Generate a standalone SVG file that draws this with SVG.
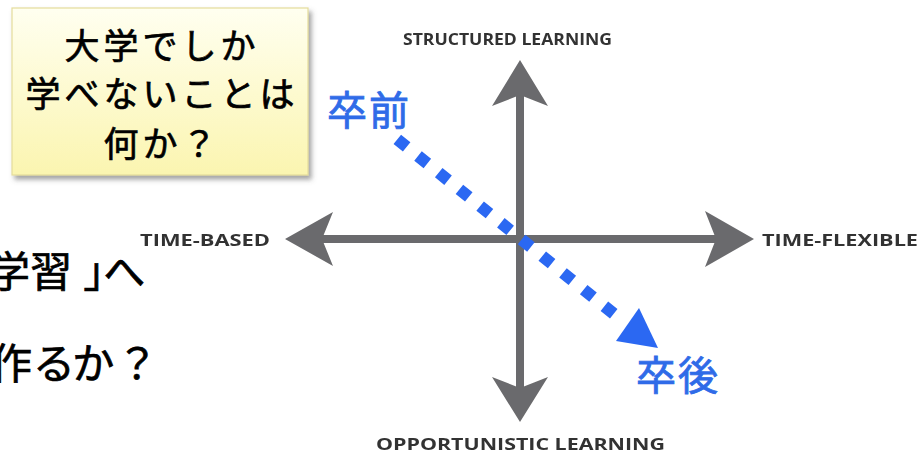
<svg xmlns="http://www.w3.org/2000/svg" width="921" height="454" viewBox="0 0 921 454">
  <defs>
    <linearGradient id="noteFill" x1="0" y1="0" x2="0" y2="1">
      <stop offset="0" stop-color="#fffff0"/>
      <stop offset="1" stop-color="#fbf5b0"/>
    </linearGradient>
    <filter id="noteShadow" x="-10%" y="-10%" width="125%" height="130%">
      <feDropShadow dx="3" dy="4" stdDeviation="2.5" flood-color="#555" flood-opacity="0.55"/>
    </filter>
    <filter id="soft" x="-5%" y="-5%" width="110%" height="110%">
      <feGaussianBlur stdDeviation="0.55"/>
    </filter>
  </defs>
  <style>
    .jp { font-family: "Noto Sans CJK JP", "Noto Sans CJK SC", sans-serif; fill: #000; stroke: #000; stroke-width: 0.7px; }
    .note { font-size: 35px; letter-spacing: 4px; text-anchor: middle; }
    .big { font-size: 42px; font-feature-settings: "palt"; }
    .blue { font-family: "Noto Sans CJK JP", "Noto Sans CJK SC", sans-serif; fill: #2f6be8; stroke: #2f6be8; stroke-width: 0.8px; font-size: 40px; letter-spacing: 2px; }
    .axis-label { font-family: "Open Sans", "Liberation Sans", sans-serif; font-weight: 700; fill: #333; }
    .axis { stroke: #6b6b6d; stroke-width: 8; fill: none; }
    .head { fill: #6b6b6d; }
  </style>

  <rect width="921" height="454" fill="#fff"/>

  <!-- question note -->
  <g id="note">
    <rect x="12" y="8" width="296" height="167" fill="url(#noteFill)" stroke="#e4dc9c" stroke-width="1.2" filter="url(#noteShadow)"/>
    <text class="jp note" x="162" y="59">大学でしか</text>
    <text class="jp note" x="162" y="107">学べないことは</text>
    <text class="jp note" x="162" y="157">何か？</text>
  </g>

  <!-- left-side slide text, running off the left edge -->
  <g id="slide-text">
    <text class="jp big" y="287"><tspan x="-12">学</tspan><tspan x="30">習</tspan><tspan x="84">」</tspan><tspan x="103">へ</tspan></text>
    <text class="jp big" y="379" font-size="44"><tspan x="-10">作</tspan><tspan x="35">る</tspan><tspan x="73">か</tspan><tspan x="122">？</tspan></text>
  </g>

  <!-- axes -->
  <g id="connectors">
    <g filter="url(#soft)">
      <line class="axis" x1="520" y1="94" x2="520" y2="389"/>
      <line class="axis" x1="321" y1="239" x2="717" y2="239"/>
      <path class="head" d="M520,60 L548,106 L520,95 L492,106 Z"/>
      <path class="head" d="M520,422 L548,377 L520,388 L492,377 Z"/>
      <path class="head" d="M285,239 L333,212 L322,239 L333,266 Z"/>
      <path class="head" d="M754,239 L705,211 L716,239 L705,267 Z"/>
    </g>
    <!-- before → after path -->
    <g id="progress-arrow">
      <line x1="397.3" y1="139.3" x2="614" y2="314" stroke="#2b68f2" stroke-width="12" stroke-dasharray="12 14.6"/>
      <path d="M658,348 L639,308 L616,341 Z" fill="#2b68f2"/>
    </g>
  </g>

  <!-- axis labels -->
  <g id="labels" filter="url(#soft)">
    <g id="label-structured"><text class="axis-label" x="403" y="45" font-size="15.5" textLength="209" lengthAdjust="spacingAndGlyphs">STRUCTURED LEARNING</text></g>
    <g id="label-time-based"><text class="axis-label" x="140" y="246" font-size="16" textLength="130" lengthAdjust="spacingAndGlyphs">TIME-BASED</text></g>
    <g id="label-time-flexible"><text class="axis-label" x="762" y="246" font-size="16" textLength="156" lengthAdjust="spacingAndGlyphs">TIME-FLEXIBLE</text></g>
    <g id="label-opportunistic"><text class="axis-label" x="376" y="450" font-size="16.5" textLength="289" lengthAdjust="spacingAndGlyphs">OPPORTUNISTIC LEARNING</text></g>
  </g>

  <!-- before / after markers -->
  <g id="before"><text class="blue" x="327" y="125">卒前</text></g>
  <g id="after"><text class="blue" x="636" y="390">卒後</text></g>
</svg>
